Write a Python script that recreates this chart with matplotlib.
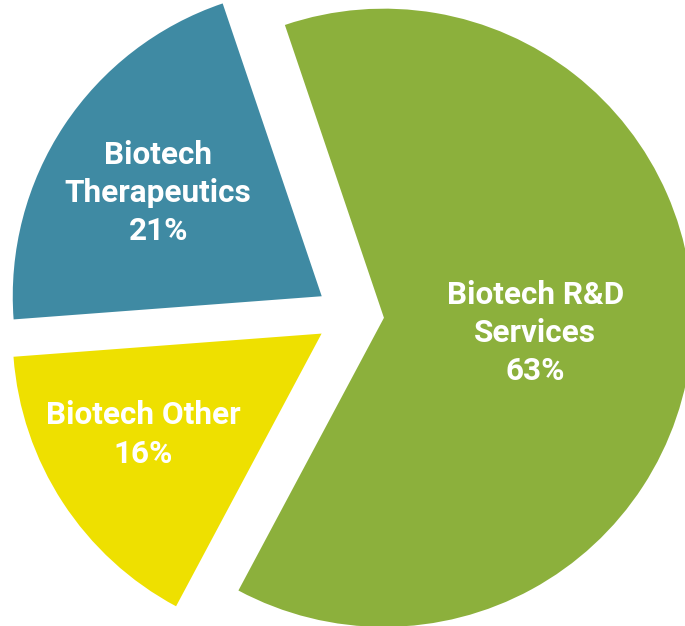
import matplotlib
matplotlib.use("Agg")
import matplotlib.pyplot as plt

categories = ["Biotech R&D\nServices", "Biotech Other", "Biotech\nTherapeutics"]
shares = [63, 16, 21]
colors = ["#8CB03C", "#EEE000", "#3F8AA3"]

fig = plt.figure(figsize=(6.85, 6.26), dpi=100)
ax = fig.add_axes([0, 0, 1, 1])
wedges, _ = ax.pie(shares, colors=colors, startangle=108.7, counterclock=False,
                   explode=[0.11, 0.11, 0.11], radius=1.0,
                   wedgeprops=dict(linewidth=0))

label_pos = [(0.599, -0.058), (-0.670, -0.386), (-0.621, 0.395)]
for cat, val, (x, y) in zip(categories, shares, label_pos):
    ax.text(x, y, f"{cat}\n{val}%", ha="center", va="center", color="white",
            fontsize=22.7, fontweight="bold", family=["Roboto", "DejaVu Sans"],
            linespacing=1.35)

ax.set_xlim(-1.133, 1.084)
ax.set_ylim(-1.006, 1.019)
ax.set_aspect("auto")
ax.axis("off")
fig.savefig("out.png", dpi=100)
